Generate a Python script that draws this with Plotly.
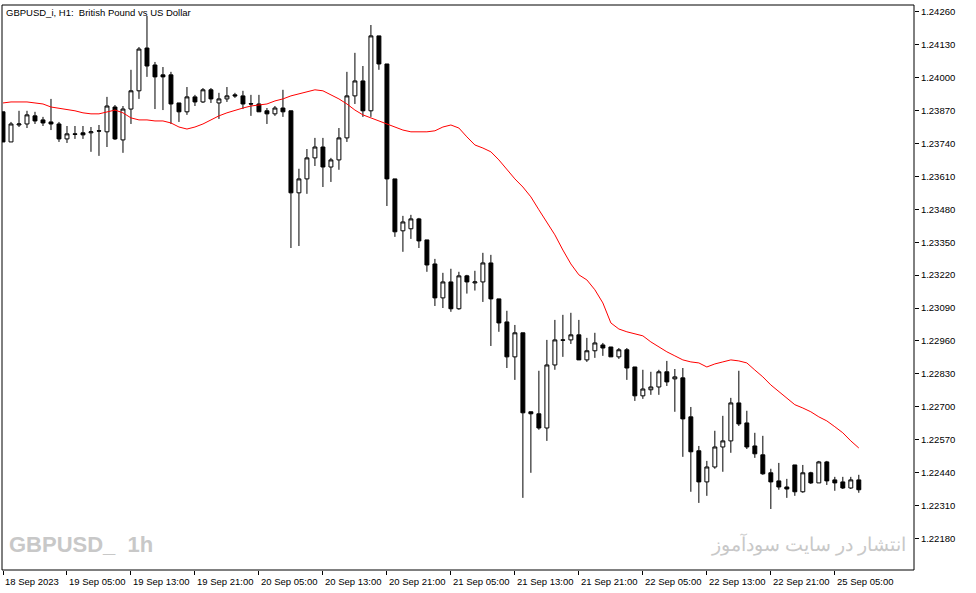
import plotly.graph_objects as go

open_ = [1.23865,1.23746,1.23813,1.23817,1.23849,1.23833,1.23825,1.23817,1.23758,1.23778,1.23782,1.23782,1.23790,1.23786,1.23884,1.23754,1.23876,1.23948,1.24117,1.24050,
1.24011,1.24011,1.23900,1.23865,1.23924,1.23904,1.23952,1.23900,1.23916,1.23932,1.23928,1.23897,1.23896,1.23869,1.23857,1.23880,1.23869,1.23545,1.23600,1.23683,
1.23726,1.23647,1.23675,1.23762,1.23928,1.23987,1.23869,1.24165,1.24054,1.23600,1.23395,1.23403,1.23442,1.23359,1.23264,1.23130,1.23193,1.23087,1.23217,1.23189,
1.23193,1.23268,1.23126,1.23035,1.22897,1.22992,1.22680,1.22672,1.22616,1.22865,1.22964,1.22964,1.22984,1.22885,1.22921,1.22944,1.22936,1.22897,1.22925,1.22857,
1.22743,1.22767,1.22778,1.22838,1.22810,1.22814,1.22660,1.22526,1.22403,1.22462,1.22541,1.22565,1.22715,1.22636,1.22545,1.22510,1.22439,1.22407,1.22383,1.22470,
1.22364,1.22439,1.22399,1.22482,1.22411,1.22403,1.22379,1.22411]
high = [1.23865,1.23825,1.23869,1.23869,1.23865,1.23845,1.23916,1.23825,1.23809,1.23809,1.23809,1.23805,1.23813,1.23924,1.23892,1.23888,1.24031,1.24121,1.24244,1.24062,
1.24042,1.24023,1.23900,1.23963,1.23932,1.23959,1.23959,1.23940,1.23963,1.23940,1.23948,1.23932,1.23932,1.23880,1.23888,1.23952,1.23869,1.23640,1.23718,1.23762,
1.23762,1.23683,1.23801,1.24023,1.24098,1.24046,1.24208,1.24165,1.24054,1.23600,1.23454,1.23458,1.23446,1.23359,1.23284,1.23229,1.23245,1.23233,1.23221,1.23237,
1.23308,1.23300,1.23126,1.23079,1.23023,1.22992,1.22680,1.22842,1.22964,1.23043,1.23063,1.23071,1.23043,1.22972,1.22992,1.22952,1.22936,1.22932,1.22932,1.22857,
1.22846,1.22838,1.22846,1.22881,1.22849,1.22853,1.22699,1.22545,1.22486,1.22605,1.22664,1.22735,1.22842,1.22684,1.22597,1.22585,1.22455,1.22478,1.22415,1.22470,
1.22470,1.22443,1.22486,1.22486,1.22423,1.22423,1.22423,1.22431]
low = [1.23746,1.23746,1.23805,1.23801,1.23817,1.23809,1.23793,1.23746,1.23742,1.23758,1.23758,1.23707,1.23691,1.23726,1.23754,1.23703,1.23817,1.23916,1.24003,1.23876,
1.23872,1.23817,1.23825,1.23853,1.23888,1.23900,1.23900,1.23837,1.23904,1.23920,1.23876,1.23849,1.23865,1.23817,1.23849,1.23845,1.23327,1.23335,1.23541,1.23651,
1.23568,1.23588,1.23636,1.23746,1.23896,1.23845,1.23845,1.24031,1.23493,1.23371,1.23312,1.23363,1.23327,1.23233,1.23098,1.23090,1.23075,1.23083,1.23147,1.23159,
1.23114,1.22940,1.22996,1.22853,1.22806,1.22340,1.22439,1.22609,1.22565,1.22846,1.22897,1.22948,1.22885,1.22877,1.22893,1.22901,1.22897,1.22889,1.22806,1.22723,
1.22731,1.22747,1.22747,1.22782,1.22680,1.22502,1.22364,1.22320,1.22348,1.22455,1.22443,1.22518,1.22624,1.22533,1.22498,1.22431,1.22296,1.22372,1.22340,1.22348,
1.22360,1.22395,1.22399,1.22391,1.22368,1.22375,1.22375,1.22360]
close = [1.23746,1.23817,1.23817,1.23853,1.23829,1.23821,1.23817,1.23758,1.23778,1.23776,1.23774,1.23786,1.23789,1.23888,1.23758,1.23876,1.23948,1.24113,1.24046,1.24003,
1.24003,1.23896,1.23865,1.23924,1.23904,1.23952,1.23916,1.23916,1.23928,1.23928,1.23896,1.23896,1.23865,1.23857,1.23880,1.23865,1.23545,1.23600,1.23683,1.23726,
1.23647,1.23675,1.23762,1.23928,1.23987,1.23869,1.24165,1.24054,1.23600,1.23391,1.23430,1.23442,1.23355,1.23260,1.23130,1.23193,1.23087,1.23217,1.23193,1.23193,
1.23268,1.23126,1.23031,1.22897,1.22992,1.22676,1.22672,1.22616,1.22865,1.22964,1.22963,1.22984,1.22885,1.22921,1.22952,1.22932,1.22897,1.22925,1.22853,1.22743,
1.22770,1.22778,1.22838,1.22798,1.22818,1.22652,1.22522,1.22403,1.22462,1.22541,1.22565,1.22715,1.22632,1.22541,1.22514,1.22435,1.22403,1.22383,1.22375,1.22364,
1.22439,1.22399,1.22482,1.22407,1.22399,1.22379,1.22411,1.22372]
ma = [1.23900,1.23904,1.23904,1.23904,1.23900,1.23896,1.23884,1.23880,1.23876,1.23869,1.23861,1.23857,1.23857,1.23865,1.23872,1.23861,1.23841,1.23833,1.23833,1.23829,
1.23829,1.23821,1.23805,1.23797,1.23805,1.23817,1.23833,1.23849,1.23861,1.23872,1.23880,1.23888,1.23892,1.23896,1.23908,1.23916,1.23928,1.23936,1.23944,1.23952,
1.23948,1.23932,1.23916,1.23896,1.23872,1.23853,1.23841,1.23829,1.23817,1.23805,1.23793,1.23786,1.23786,1.23786,1.23790,1.23805,1.23813,1.23801,1.23766,1.23734,
1.23722,1.23707,1.23675,1.23636,1.23600,1.23568,1.23529,1.23478,1.23430,1.23379,1.23319,1.23264,1.23221,1.23201,1.23162,1.23110,1.23031,1.23007,1.22996,1.22988,
1.22980,1.22956,1.22936,1.22917,1.22901,1.22885,1.22877,1.22873,1.22857,1.22869,1.22877,1.22885,1.22881,1.22873,1.22845,1.22818,1.22786,1.22759,1.22735,1.22708,
1.22695,1.22680,1.22660,1.22644,1.22621,1.22597,1.22565,1.22537]

tick_idx = [0, 8, 16, 24, 32, 40, 48, 56, 64, 72, 80, 88, 96, 104]
tick_text = ["18 Sep 2023", "19 Sep 05:00", "19 Sep 13:00", "19 Sep 21:00", "20 Sep 05:00",
             "20 Sep 13:00", "20 Sep 21:00", "21 Sep 05:00", "21 Sep 13:00", "21 Sep 21:00",
             "22 Sep 05:00", "22 Sep 13:00", "22 Sep 21:00", "25 Sep 05:00"]
price_ticks = [1.24260, 1.24130, 1.24000, 1.23870, 1.23740, 1.23610, 1.23480, 1.23350, 1.23220,
               1.23090, 1.22960, 1.22830, 1.22700, 1.22570, 1.22440, 1.22310, 1.22180]

idx = list(range(len(open_)))
F = "Liberation Sans"

fig = go.Figure()
fig.add_trace(go.Candlestick(
    x=idx, open=open_, high=high, low=low, close=close,
    increasing=dict(line=dict(color="black", width=1), fillcolor="white"),
    decreasing=dict(line=dict(color="black", width=1), fillcolor="black"),
    whiskerwidth=0, showlegend=False, hoverinfo="skip"))
fig.add_trace(go.Scatter(x=idx, y=ma, mode="lines", line=dict(color="#ff0000", width=1),
                         showlegend=False, hoverinfo="skip"))

fig.update_layout(
    width=976, height=593, margin=dict(l=2, r=62, t=5, b=23, autoexpand=False),
    paper_bgcolor="white", plot_bgcolor="white",
    font=dict(family=F, size=10, color="black"),
    xaxis=dict(range=[-0.125, 113.9], rangeslider=dict(visible=False), showgrid=False,
               zeroline=False, tickvals=tick_idx, ticktext=[""] * len(tick_idx),
               ticks="outside", ticklen=4, tickcolor="black", showline=False, automargin=False),
    yaxis=dict(range=[1.22055, 1.24287], side="right", showgrid=False, zeroline=False,
               tickvals=price_ticks, tickformat=".5f", ticks="outside", ticklen=4,
               tickcolor="black", tickfont=dict(family=F, size=9.5), showline=False, automargin=False),
    shapes=[dict(type="rect", xref="paper", yref="paper", x0=0, y0=0, x1=1, y1=1,
                 line=dict(color="black", width=1))],
)
ann = [dict(x=i, y=0, xref="x", yref="paper", yshift=-4, text=t, showarrow=False,
            xanchor="left", yanchor="top", font=dict(family=F, size=9.5)) for i, t in zip(tick_idx, tick_text)]
ann.append(dict(x=0.002, y=1, xref="paper", yref="paper", text="GBPUSD_i, H1:  British Pound vs US Dollar",
                showarrow=False, xanchor="left", yanchor="top", font=dict(family=F, size=9.5)))
ann.append(dict(x=0.006, y=0.02, xref="paper", yref="paper", text="<b>GBPUSD_  1h</b>",
                showarrow=False, xanchor="left", yanchor="bottom", font=dict(family="Liberation Sans", size=22, color="#c8c8c8")))
ann.append(dict(x=0.993, y=0.02, xref="paper", yref="paper", text="انتشار در سایت سودآموز",
                showarrow=False, xanchor="right", yanchor="bottom", font=dict(family="Noto Sans", size=19, color="#c8c8c8")))
fig.update_layout(annotations=ann)
fig.write_html("out.html", config={"displayModeBar": False},
               post_script="document.body.style.margin='0';document.body.style.overflow='hidden';")
